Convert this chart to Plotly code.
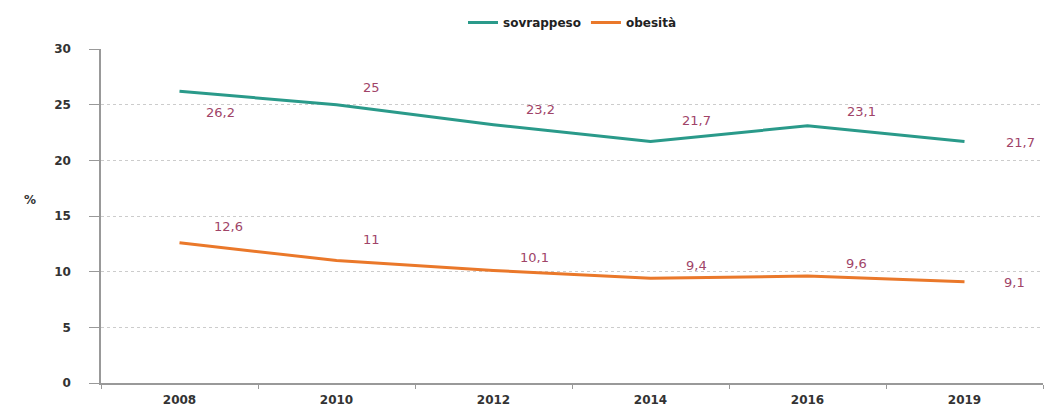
import plotly.graph_objects as go

years = ["2008", "2010", "2012", "2014", "2016", "2019"]
sovrappeso = [26.2, 25, 23.2, 21.7, 23.1, 21.7]
obesita = [12.6, 11, 10.1, 9.4, 9.6, 9.1]
sovr_labels = ["26,2", "25", "23,2", "21,7", "23,1", "21,7"]
obes_labels = ["12,6", "11", "10,1", "9,4", "9,6", "9,1"]

# label offsets in pixels (style only)
sovr_off = [(41, -21), (35, 17), (47, 15), (46, 21), (54, 14), (56, -1)]
obes_off = [(49, 16), (35, 21), (41, 13), (46, 13), (49, 13), (50, -1)]

xi = list(range(len(years)))

fig = go.Figure()
fig.add_trace(go.Scatter(x=xi, y=sovrappeso, mode="lines", name="<b>sovrappeso</b>",
                         line=dict(color="#2a9a8a", width=3)))
fig.add_trace(go.Scatter(x=xi, y=obesita, mode="lines", name="<b>obesità</b>",
                         line=dict(color="#ea782a", width=3)))

lab_font = dict(family="DejaVu Sans", size=13, color="#a04468")
for ys, labs, offs in [(sovrappeso, sovr_labels, sovr_off),
                       (obesita, obes_labels, obes_off)]:
    for x, y, t, (dx, dy) in zip(xi, ys, labs, offs):
        fig.add_annotation(x=x, y=y, text=t, showarrow=False, xshift=dx, yshift=dy,
                           font=lab_font)

fig.add_annotation(xref="paper", yref="paper", x=0, y=0.548, xshift=-79,
                   text="<b>%</b>", showarrow=False,
                   font=dict(family="DejaVu Sans", size=12, color="#333333"))

fig.update_layout(
    width=1045, height=402,
    margin=dict(l=93, r=10, t=41, b=27, autoexpand=False),
    plot_bgcolor="white", paper_bgcolor="white",
    font=dict(family="DejaVu Sans", size=11, color="#333333"),
    legend=dict(orientation="h", x=0.5, xanchor="center", yref="container",
                y=1.0, yanchor="top",
                font=dict(size=12, color="#222222", family="DejaVu Sans")),
    showlegend=True,
)
fig.update_xaxes(range=[-0.5, len(years) - 0.5], tickvals=xi,
                 ticktext=["<b>%s</b>" % y for y in years], automargin=False,
                 showline=True, linecolor="#999999", linewidth=1.5,
                 ticks="", showgrid=False, zeroline=False, ticklabelstandoff=5,
                 minor=dict(ticks="outside", tick0=-0.5, dtick=1, ticklen=4,
                            tickcolor="#999999", showgrid=False),
                 tickfont=dict(size=12, color="#333333", family="DejaVu Sans"))
fig.update_yaxes(range=[0, 30], showline=True, linecolor="#999999", linewidth=1.5,
                 ticks="outside", ticklen=10, tickcolor="#999999", ticklabelstandoff=16,
                 tickvals=[0, 5, 10, 15, 20, 25, 30], automargin=False,
                 ticktext=["<b>%d</b>" % v for v in [0, 5, 10, 15, 20, 25, 30]],
                 showgrid=True, gridcolor="#cccccc", griddash="dot", gridwidth=1,
                 zeroline=False,
                 tickfont=dict(size=12, color="#333333", family="DejaVu Sans"))

fig.write_html("out.html")
